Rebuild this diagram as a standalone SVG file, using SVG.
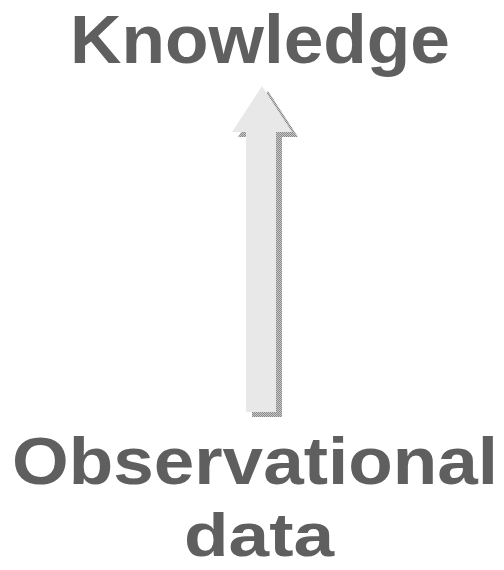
<svg xmlns="http://www.w3.org/2000/svg" width="504" height="570" viewBox="0 0 504 570">
<style>
.lbl{font-family:"Liberation Sans",Arial,sans-serif;font-weight:bold;fill:#5f5f5f}
</style>
<defs>
<pattern id="dots" width="2" height="2" patternUnits="userSpaceOnUse">
<rect width="2" height="2" fill="#c8c8c8"/>
<rect width="1" height="1" fill="#8a8a8a"/>
<rect x="1" y="1" width="1" height="1" fill="#8a8a8a"/>
</pattern>
</defs>
<rect width="504" height="570" fill="#ffffff"/>
<g id="connectors">
<polygon points="268,91 298,137 282,137 282,417 252,417 252,137 238,137" fill="url(#dots)"/>
<polygon points="262,86 292,132 276,132 276,412 246,412 246,132 232,132" fill="#e8e8e8"/>
</g>
<g id="knowledge">
<text class="lbl" x="70" y="63" font-size="69" textLength="380" lengthAdjust="spacingAndGlyphs">Knowledge</text>
</g>
<g id="observational">
<text class="lbl" x="12" y="484" font-size="67" textLength="486" lengthAdjust="spacingAndGlyphs">Observational</text>
<text class="lbl" x="184" y="556" font-size="62" textLength="150" lengthAdjust="spacingAndGlyphs">data</text>
</g>
</svg>
